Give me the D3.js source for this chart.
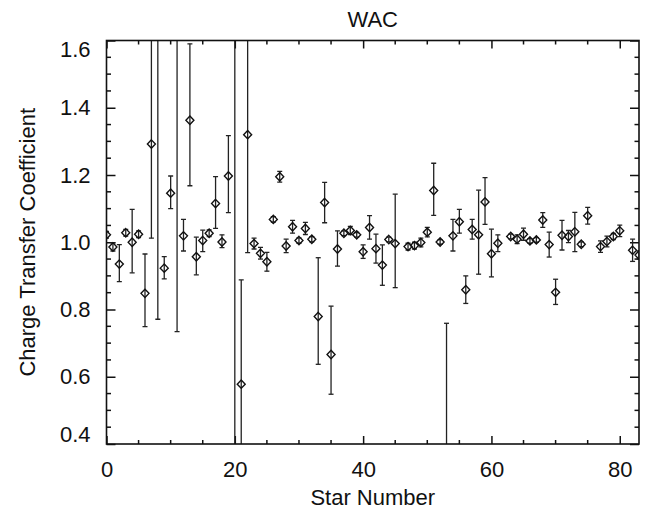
<!DOCTYPE html>
<html>
<head>
<meta charset="utf-8">
<script src="https://cdn.jsdelivr.net/npm/d3@7/dist/d3.min.js"></script>
<style>
  html, body { margin: 0; padding: 0; background: #fff; }
  svg text { font-family: "Liberation Sans", Arial, Helvetica, sans-serif; fill: #111; }
</style>
</head>
<body>
<svg id="chart" width="649" height="513"></svg>
<script>
// Charge transfer coefficient per star (WAC), with lower / upper error limits
const starNumber = [0,1,2,3,4,5,6,7,8,9,10,11,12,13,14,15,16,17,18,19,20,21,22,23,24,25,26,27,28,29,30,31,32,33,34,35,36,37,38,39,40,41,42,43,44,45,47,48,49,50,51,52,53,54,55,56,57,58,59,60,61,63,64,65,66,67,68,69,70,71,72,73,74,75,77,78,79,80,82,83];
const coefficient = [1.022,0.986,0.935,1.028,1.000,1.024,0.848,1.292,1.75,0.923,1.146,1.70,1.019,1.363,0.957,1.005,1.027,1.115,1.001,1.197,1.75,0.578,1.320,0.996,0.967,0.942,1.068,1.195,0.989,1.046,1.005,1.041,1.009,0.779,1.118,0.666,0.980,1.027,1.035,1.022,0.972,1.044,0.981,0.932,1.008,0.996,0.987,0.990,0.999,1.030,1.154,1.001,0.30,1.019,1.061,0.859,1.038,1.022,1.120,0.966,0.997,1.017,1.009,1.024,1.004,1.007,1.066,0.993,0.851,1.021,1.017,1.031,0.994,1.079,0.987,1.002,1.017,1.034,0.976,0.962];
const lowerLimit = [1.012,0.974,0.883,1.018,0.909,1.014,0.749,1.012,0.771,0.891,1.100,0.734,0.974,1.168,0.903,0.972,1.017,1.041,0.984,1.088,0.20,0.270,0.969,0.980,0.950,0.914,1.060,1.179,0.969,1.027,0.997,1.023,1.001,0.637,1.058,0.548,0.929,1.020,1.023,1.015,0.952,1.009,0.938,0.872,1.001,0.865,0.977,0.980,0.986,1.016,1.080,0.994,-0.16,0.974,1.027,0.818,1.009,0.905,1.053,0.897,0.972,1.010,0.996,1.006,0.997,1.000,1.044,0.956,0.815,0.977,0.999,0.972,0.987,1.054,0.970,0.986,1.008,1.017,0.943,0.950];
const upperLimit = [1.032,0.998,0.993,1.038,1.098,1.034,0.965,1.75,2.70,0.957,1.197,2.70,1.068,1.590,1.015,1.036,1.037,1.195,1.022,1.317,3.30,0.888,1.670,1.012,0.985,0.970,1.076,1.211,1.009,1.065,1.013,1.059,1.017,0.954,1.178,0.810,1.034,1.034,1.047,1.029,0.992,1.079,1.024,0.992,1.015,1.143,0.997,1.000,1.012,1.044,1.235,1.008,0.759,1.068,1.098,0.900,1.068,1.155,1.192,1.039,1.022,1.024,1.022,1.042,1.011,1.014,1.088,1.030,0.890,1.065,1.035,1.089,1.001,1.104,1.004,1.018,1.026,1.051,1.009,0.974];

const xMajorTicks = [0, 20, 40, 60, 80];
const yMajorTicks = [0.4, 0.6, 0.8, 1.0, 1.2, 1.4, 1.6];

const stars = starNumber.map((n, i) => ({
  n, v: coefficient[i], lo: lowerLimit[i], hi: upperLimit[i]
}));

const svg = d3.select("#chart");
const plotLeft = 106.5, plotRight = 639, plotTop = 40.5, plotBottom = 444;

const x = d3.scaleLinear().domain([0, 83]).range([plotLeft, plotRight]);
const y = d3.scaleLinear().domain([0.4, 1.6]).range([plotBottom, plotTop]);

const ink = "#111";
const labelSize = 22;

svg.append("defs").append("clipPath").attr("id", "plot-clip")
  .append("rect").attr("x", plotLeft).attr("y", plotTop)
  .attr("width", plotRight - plotLeft).attr("height", plotBottom - plotTop);

// Frame ticks on all four sides, pointing inward
const frame = svg.append("g");
const xMinor = d3.range(0, 84, 5).filter(d => !xMajorTicks.includes(d));
const yMinor = d3.range(0.4, 1.6001, 0.05).map(d => +d.toFixed(2))
  .filter(d => !yMajorTicks.some(t => Math.abs(t - d) < 1e-6));

const bottomAxis = d3.axisBottom(x).tickValues(xMajorTicks).tickSize(-8).tickFormat(d3.format("d")).tickPadding(17);
const topAxis = d3.axisTop(x).tickValues(xMajorTicks).tickSize(-8).tickFormat("");
const leftAxis = d3.axisLeft(y).tickValues(yMajorTicks).tickSize(-9).tickFormat(d3.format(".1f")).tickPadding(16);
const rightAxis = d3.axisRight(y).tickValues(yMajorTicks).tickSize(-9).tickFormat("");

function styleAxis(g) {
  g.select(".domain").remove();
  g.selectAll(".tick line").attr("stroke", ink).attr("stroke-width", 1.5);
  g.selectAll(".tick text").attr("font-size", labelSize).attr("fill", ink)
    .attr("font-family", '"Liberation Sans", Arial, sans-serif');
}

frame.append("g").attr("transform", `translate(0,${plotBottom})`).call(bottomAxis).call(styleAxis);
frame.append("g").attr("transform", `translate(0,${plotTop})`).call(topAxis).call(styleAxis);
const gl = frame.append("g").attr("transform", `translate(${plotLeft},0)`).call(leftAxis).call(styleAxis);
frame.append("g").attr("transform", `translate(${plotRight},0)`).call(rightAxis).call(styleAxis);

// end labels on the value axis sit just inside the frame
gl.selectAll(".tick").filter(d => Math.abs(d - 1.6) < 1e-6).select("text").attr("y", 8.5);
gl.selectAll(".tick").filter(d => Math.abs(d - 0.4) < 1e-6).select("text").attr("y", -9.5);

// minor ticks
const minor = frame.append("g").attr("stroke", ink).attr("stroke-width", 1.5);
xMinor.forEach(d => {
  minor.append("line").attr("x1", x(d)).attr("x2", x(d)).attr("y1", plotBottom).attr("y2", plotBottom - 4);
  minor.append("line").attr("x1", x(d)).attr("x2", x(d)).attr("y1", plotTop).attr("y2", plotTop + 4);
});
yMinor.forEach(d => {
  minor.append("line").attr("x1", plotLeft).attr("x2", plotLeft + 4.5).attr("y1", y(d)).attr("y2", y(d));
  minor.append("line").attr("x1", plotRight).attr("x2", plotRight - 4.5).attr("y1", y(d)).attr("y2", y(d));
});

// error bars and diamonds
const plot = svg.append("g").attr("clip-path", "url(#plot-clip)");
const bars = plot.selectAll("g.star").data(stars).join("g").attr("class", "star");
bars.append("line")
  .attr("x1", d => x(d.n)).attr("x2", d => x(d.n))
  .attr("y1", d => y(d.lo)).attr("y2", d => y(d.hi))
  .attr("stroke", "#222").attr("stroke-width", 1.3);
bars.append("line")
  .attr("x1", d => x(d.n) - 2.5).attr("x2", d => x(d.n) + 2.5)
  .attr("y1", d => y(d.lo)).attr("y2", d => y(d.lo))
  .attr("stroke", "#222").attr("stroke-width", 1.3);
bars.append("line")
  .attr("x1", d => x(d.n) - 2.5).attr("x2", d => x(d.n) + 2.5)
  .attr("y1", d => y(d.hi)).attr("y2", d => y(d.hi))
  .attr("stroke", "#222").attr("stroke-width", 1.3);
bars.append("path")
  .attr("transform", d => `translate(${x(d.n)},${y(d.v)})`)
  .attr("d", "M0,-4.2L4,0L0,4.2L-4,0Z")
  .attr("fill", "none").attr("stroke", "#111").attr("stroke-width", 1.4);

// frame box
svg.append("rect").attr("x", plotLeft).attr("y", plotTop)
  .attr("width", plotRight - plotLeft).attr("height", plotBottom - plotTop)
  .attr("fill", "none").attr("stroke", ink).attr("stroke-width", 1.6);

// titles
svg.append("text").attr("x", (plotLeft + plotRight) / 2).attr("y", 27)
  .attr("text-anchor", "middle").attr("font-size", labelSize).text("WAC");
svg.append("text").attr("x", (plotLeft + plotRight) / 2).attr("y", 505)
  .attr("text-anchor", "middle").attr("font-size", labelSize).text("Star Number");
svg.append("text")
  .attr("transform", `translate(35,${(plotTop + plotBottom) / 2}) rotate(-90)`)
  .attr("text-anchor", "middle").attr("font-size", labelSize).text("Charge Transfer Coefficient");
</script>
</body>
</html>
